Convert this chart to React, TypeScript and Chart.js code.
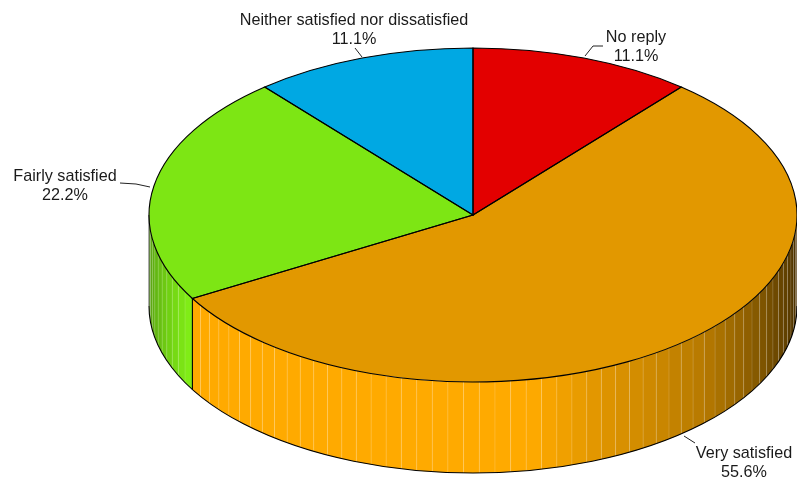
import React, { useEffect, useRef } from "react";
import { Chart, registerables } from "chart.js";

Chart.register(...registerables);

const categories = ["No reply", "Very satisfied", "Fairly satisfied", "Neither satisfied nor dissatisfied"];
const counts = [1, 5, 2, 1];
const topColors = ["#E30000", "#E29800", "#7DE614", "#00A8E3"];
const wallColors = [[227, 0, 0], [255, 170, 0], [130, 240, 22], [0, 168, 227]];

const labelCenters = [[636, 38], [744, 454], [65, 177], [354, 21]];
const leaders = [
  [[585, 56], [593, 46], [603, 46]],
  [[684, 436], [695, 443]],
  [[120, 183], [136, 184], [150, 187]],
  [[355, 48], [362, 57]],
];
// wall brightness stops: [degrees, factor]
const shadeStops = [[0, 0.25], [12, 0.35], [23, 0.45], [31, 0.55], [45, 0.72], [67, 0.88], [80, 1], [150, 1], [180, 0.6]];

const W = 797;
const H = 481;
const CX = 473;
const CY = 215;
const RX = 324;
const RY = 167;
const DEPTH = 91;
const STEP = (2.8 * Math.PI) / 180;
const FONT = '16.2px "Liberation Sans", Arial, sans-serif';

function shade(a: number) {
  const deg = (a * 180) / Math.PI;
  for (let i = 1; i < shadeStops.length; i++) {
    const [d0, f0] = shadeStops[i - 1];
    const [d1, f1] = shadeStops[i];
    if (deg <= d1) return f0 + ((f1 - f0) * (deg - d0)) / (d1 - d0);
  }
  return 0.6;
}

const pie3d = {
  id: "pie3d",
  beforeDatasetsDraw(chart: any) {
    const ctx = chart.ctx;
    const arcs = chart.getDatasetMeta(0).data;
    arcs.forEach((arc: any, i: number) => {
      const from = Math.max(arc.startAngle, 0);
      const to = Math.min(arc.endAngle, Math.PI);
      if (to <= from) return;
      const n = Math.max(1, Math.round((to - from) / STEP));
      for (let k = 0; k < n; k++) {
        const a0 = from + ((to - from) * k) / n;
        const a1 = from + ((to - from) * (k + 1)) / n;
        const f = shade((a0 + a1) / 2);
        const c = wallColors[i];
        ctx.fillStyle = `rgb(${c[0] * f},${c[1] * f},${c[2] * f})`;
        ctx.beginPath();
        ctx.ellipse(CX, CY, RX, RY, 0, a0, a1);
        ctx.ellipse(CX, CY + DEPTH, RX, RY, 0, a1, a0, true);
        ctx.closePath();
        ctx.fill();
        if (k > 0) {
          const x = CX + RX * Math.cos(a0);
          const y = CY + RY * Math.sin(a0);
          ctx.strokeStyle = "rgba(255,255,255,0.16)";
          ctx.lineWidth = 0.9;
          ctx.beginPath();
          ctx.moveTo(x, y);
          ctx.lineTo(x, y + DEPTH);
          ctx.stroke();
        }
      }
    });
    const p = arcs[0];
    const R = p.outerRadius;
    ctx.save();
    ctx.translate(CX, CY);
    ctx.scale(RX / R, RY / R);
    ctx.translate(-p.x, -p.y);
  },
  afterDatasetsDraw(chart: any) {
    const ctx = chart.ctx;
    ctx.restore();
    const arcs = chart.getDatasetMeta(0).data;
    ctx.strokeStyle = "#000";
    ctx.lineWidth = 1.1;
    ctx.beginPath();
    ctx.ellipse(CX, CY + DEPTH, RX, RY, 0, 0, Math.PI);
    ctx.stroke();
    ctx.strokeStyle = "rgba(40,40,40,0.7)";
    ctx.beginPath();
    ctx.moveTo(CX - RX, CY);
    ctx.lineTo(CX - RX, CY + DEPTH);
    ctx.stroke();
    ctx.strokeStyle = "#000";
    arcs.forEach((arc: any) => {
      ctx.beginPath();
      ctx.moveTo(CX, CY);
      ctx.ellipse(CX, CY, RX, RY, 0, arc.startAngle, arc.endAngle);
      ctx.closePath();
      ctx.stroke();
      const e = arc.endAngle;
      const norm = Math.atan2(Math.sin(e), Math.cos(e));
      if (norm > 0 && norm < Math.PI) {
        const x = CX + RX * Math.cos(e);
        const y = CY + RY * Math.sin(e);
        ctx.beginPath();
        ctx.moveTo(x, y);
        ctx.lineTo(x, y + DEPTH);
        ctx.stroke();
      }
    });
    ctx.strokeStyle = "#222";
    ctx.lineWidth = 1;
    leaders.forEach((pts) => {
      ctx.beginPath();
      pts.forEach((pt, j) => (j ? ctx.lineTo(pt[0], pt[1]) : ctx.moveTo(pt[0], pt[1])));
      ctx.stroke();
    });
    const total = counts.reduce((s, v) => s + v, 0);
    ctx.font = FONT;
    ctx.fillStyle = "#1a1a1a";
    ctx.textAlign = "center";
    ctx.textBaseline = "middle";
    categories.forEach((name, i) => {
      const [x, y] = labelCenters[i];
      ctx.fillText(name, x, y);
      ctx.fillText(((counts[i] / total) * 100).toFixed(1) + "%", x, y + 19);
    });
  },
};

export default function App() {
  const ref = useRef<HTMLCanvasElement>(null);
  useEffect(() => {
    const chart = new Chart(ref.current as HTMLCanvasElement, {
      type: "pie",
      data: {
        labels: categories,
        datasets: [
          {
            data: counts,
            backgroundColor: topColors,
            borderWidth: 0,
            hoverOffset: 0,
            clip: false,
          } as any,
        ],
      },
      options: {
        animation: false,
        responsive: false,
        events: [],
        layout: { padding: 0 },
        plugins: { legend: { display: false }, tooltip: { enabled: false } },
      },
      plugins: [pie3d],
    });
    return () => chart.destroy();
  }, []);
  return (
    <div style={{ position: "absolute", left: 0, top: 0, width: W, height: H, background: "#fff" }}>
      <canvas ref={ref} width={W} height={H} style={{ display: "block" }} />
    </div>
  );
}
